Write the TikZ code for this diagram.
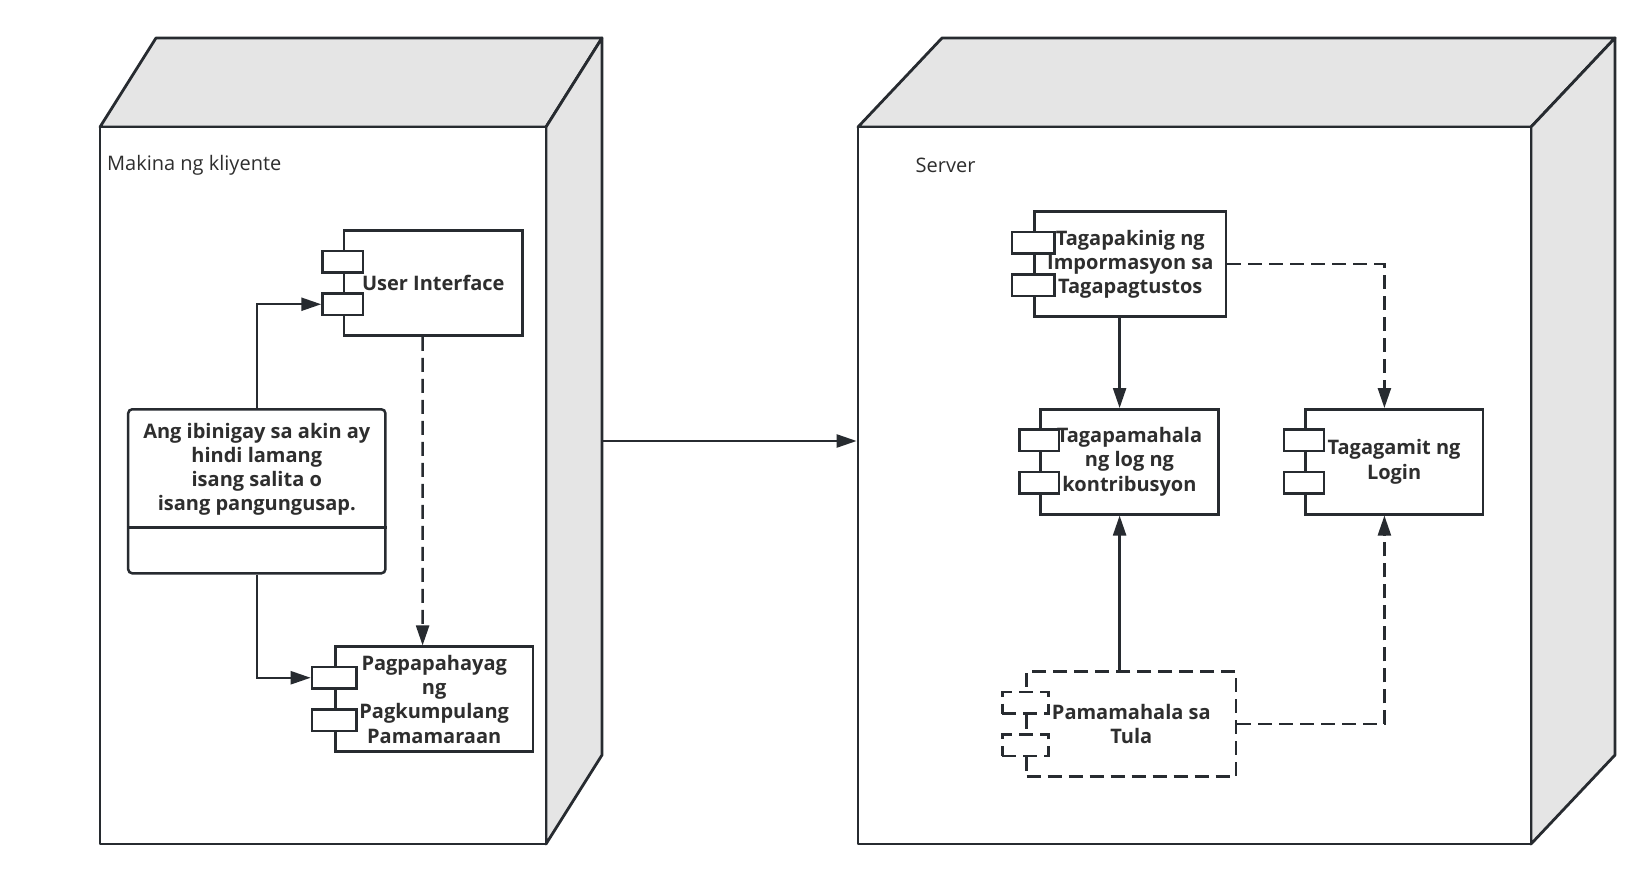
\documentclass[tikz,border=0pt]{standalone}
\usepackage{fontspec}
\setmainfont{Open Sans}
\usetikzlibrary{arrows.meta,calc}
\definecolor{ln}{HTML}{272B30}
\definecolor{tx}{HTML}{2E2E2E}
\definecolor{gy}{HTML}{E5E5E5}
\tikzset{
 face/.style={draw=ln, line width=2.8pt, line join=round},
 comp/.style={draw=ln, fill=white, line width=2.5pt, minimum height=105pt, inner sep=0pt, text=tx, font=\bfseries\fontsize{20}{24.2}\selectfont, align=center},
 port/.style={draw=ln, fill=white, line width=2.5pt, minimum height=21.5pt, inner sep=0pt},
 conn/.style={draw=ln, line width=2.4pt, -{Triangle[length=20pt,width=13pt]}},
 dsh/.style={dash pattern=on 14pt off 7pt},
 lbl/.style={text=tx, font=\fontsize{20}{24}\selectfont, anchor=west, inner sep=0pt},
}
\newcommand\addports[3][]{%
 \node[port,#1, minimum width=#3pt, anchor=north] (#2-p1) at ($(#2.north west)+(0,20.3)$) {};
 \node[port,#1, minimum width=#3pt, anchor=south] (#2-p2) at ($(#2.south west)+(0,-20.7)$) {};
}
\begin{document}
\begin{tikzpicture}[x=1pt,y=-1pt]
\useasboundingbox (0,0) rectangle (1652,882);
\fill[white] (0,0) rectangle (1652,882);
% client node
\draw[face, fill=gy] (100,127) -- (156,38) -- (602,38) -- (546,127) -- cycle;
\draw[face, fill=gy] (546,127) -- (602,38) -- (602,755) -- (546,844) -- cycle;
\node[face, fill=white, minimum width=446pt, minimum height=717pt, inner sep=0pt] (client) at (323,485.5) {};
\node[lbl] (clientlbl) at (106.9,165) {Makina ng kliyente};
% server node
\draw[face, fill=gy] (858,127) -- (942,38) -- (1615,38) -- (1531,127) -- cycle;
\draw[face, fill=gy] (1531,127) -- (1615,38) -- (1615,755) -- (1531,844) -- cycle;
\node[face, fill=white, minimum width=673pt, minimum height=717pt, inner sep=0pt] (server) at (1194.5,485.5) {};
\node[lbl] (serverlbl) at (915.5,165) {Server};
% class box
\node[draw=ln, fill=white, line width=2.5pt, rounded corners=4pt, minimum width=257.2pt, minimum height=164pt, inner sep=0pt] (cls) at (256.8,491.3) {};
\draw[draw=ln, line width=2.5pt] (cls.west |- 0,527.7) -- (cls.east |- 0,527.7);
\node[text=tx, font=\bfseries\fontsize{20}{24.2}\selectfont, align=center, inner sep=0pt] (clstext) at (256.8,469.5) {Ang ibinigay sa akin ay\\hindi lamang\\isang salita o\\isang pangungusap.};
% components client
\node[comp, minimum width=178.5pt] (ui) at (433.3,283.2) {User Interface};
\addports{ui}{40.6}
\node[comp, minimum width=197.3pt] (pag) at (434.2,699.2) {Pagpapahayag\\ng\\Pagkumpulang\\Pamamaraan};
\addports{pag}{44.7}
% components server
\node[comp, minimum width=191.8pt] (tk) at (1130.3,264.2) {Tagapakinig ng\\Impormasyon sa\\Tagapagtustos};
\addports{tk}{42.3}
\node[comp, minimum width=178.1pt] (tm) at (1129.5,461.8) {Tagapamahala\\ng log ng\\kontribusyon};
\addports{tm}{39.4}
\node[comp, minimum width=177.6pt] (lg) at (1394.1,461.8) {Tagagamit ng\\Login};
\addports{lg}{40.3}
\node[comp, dsh, minimum width=209.2pt] (pm) at (1131.3,724.2) {Pamamahala sa\\Tula};
\addports[dsh]{pm}{46.4}
% connectors
\draw[conn] (cls.north) |- (ui-p2.west);
\draw[conn] (cls.south) |- (pag-p1.west);
\draw[conn, dsh] ([xshift=-10.7pt]ui.south) -- ([xshift=-11.6pt]pag.north);
\coordinate (cside) at (602,441);
\draw[conn] (cside) -- (cside -| server.west);
\draw[conn] ([xshift=-10.7pt]tk.south) -- ([xshift=-9.9pt]tm.north);
\draw[conn, dsh] (tk.east) -| ([xshift=-9.7pt]lg.north);
\draw[conn] ([xshift=-11.7pt]pm.north) -- ([xshift=-9.9pt]tm.south);
\draw[conn, dsh] (pm.east) -| ([xshift=-9.7pt]lg.south);
\end{tikzpicture}
\end{document}
